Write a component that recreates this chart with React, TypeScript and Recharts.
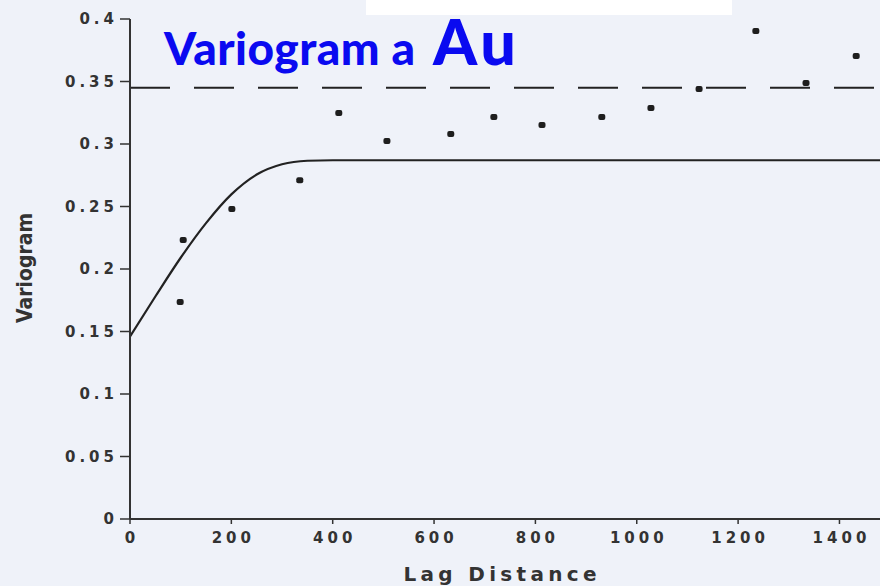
import React from "react";
import {
  ComposedChart,
  Line,
  Scatter,
  XAxis,
  YAxis,
  ReferenceLine,
} from "recharts";

// Experimental variogram points (lag distance, gamma)
const lagDistances = [99, 105, 201, 335, 412, 507, 633, 718, 813, 931, 1028, 1123, 1235, 1334, 1433];
const gammaValues = [0.1736, 0.2232, 0.248, 0.271, 0.3248, 0.3024, 0.308, 0.3216, 0.3152, 0.3216, 0.3288, 0.344, 0.3904, 0.3488, 0.3704];

// Fitted model curve
const modelLags = [0, 50, 100, 150, 200, 250, 300, 350, 400, 1480];
const modelGamma = [0.146, 0.178, 0.209, 0.2367, 0.2597, 0.2756, 0.2838, 0.2866, 0.287, 0.287];

// Sill (dashed line)
const sillValue = 0.345;

const xTicks = [0, 200, 400, 600, 800, 1000, 1200, 1400];
const xTickLabels = ["0", "200", "400", "600", "800", "1000", "1200", "1400"];
const yTicks = [0, 0.05, 0.1, 0.15, 0.2, 0.25, 0.3, 0.35, 0.4];
const yTickLabels = ["0", "0.05", "0.1", "0.15", "0.2", "0.25", "0.3", "0.35", "0.4"];

const titleMain = "Variogram a";
const titleSub = "Au";
const xLabel = "Lag Distance";
const yLabel = "Variogram";

const expData = lagDistances.map((h, i) => ({ h, g: gammaValues[i] }));
const modelData = modelLags.map((h, i) => ({ h, g: modelGamma[i] }));

const INK = "#333333";
const TICK_FONT = "DejaVu Sans";
const SPACING = 4;

const YTick = (props: any) => {
  const { x, y, payload } = props;
  const idx = yTicks.indexOf(payload.value);
  return (
    <text
      x={x + SPACING}
      y={y}
      dy="0.355em"
      textAnchor="end"
      fontFamily={TICK_FONT}
      fontWeight={700}
      fontSize={15}
      letterSpacing={SPACING}
      fill={INK}
    >
      {idx >= 0 ? yTickLabels[idx] : String(payload.value)}
    </text>
  );
};

const XTick = (props: any) => {
  const { x, y, payload } = props;
  const idx = xTicks.indexOf(payload.value);
  return (
    <text
      x={x + SPACING / 2}
      y={y}
      dy="0.71em"
      textAnchor="middle"
      fontFamily={TICK_FONT}
      fontWeight={700}
      fontSize={15}
      letterSpacing={SPACING}
      fill={INK}
    >
      {idx >= 0 ? xTickLabels[idx] : String(payload.value)}
    </text>
  );
};

const Dot = (props: any) => {
  const { cx, cy } = props;
  return <rect x={cx - 3.5} y={cy - 3} width={7} height={6} rx={2} fill="#1e1e1e" />;
};

const XLabel = (props: any) => {
  const vb = props.viewBox || {};
  const cx = vb.x + 370;
  return (
    <text
      x={cx}
      y={581}
      textAnchor="middle"
      fontFamily={TICK_FONT}
      fontWeight={700}
      fontSize={20}
      textLength={193}
      lengthAdjust="spacing"
      fill={INK}
    >
      {xLabel}
    </text>
  );
};

const YLabel = () => {
  return (
    <text
      x={0}
      y={0}
      transform="translate(32 268) rotate(-90)"
      textAnchor="middle"
      fontFamily={TICK_FONT}
      fontWeight={700}
      fontSize={22}
      textLength={110}
      lengthAdjust="spacingAndGlyphs"
      fill={INK}
    >
      {yLabel}
    </text>
  );
};

export default function App() {
  return (
    <div
      style={{
        position: "absolute",
        left: 0,
        top: 0,
        width: 880,
        height: 586,
        background: "#eff2f9",
        overflow: "hidden",
      }}
    >
      <ComposedChart
        width={880}
        height={586}
        margin={{ top: 19, right: 0, bottom: 0, left: 0 }}
      >
        <XAxis
          type="number"
          dataKey="h"
          domain={[0, 1480]}
          ticks={xTicks}
          allowDataOverflow
          height={67}
          tickSize={5}
          tickMargin={8}
          axisLine={{ stroke: "#333", strokeWidth: 2 }}
          tickLine={{ stroke: "#333", strokeWidth: 1.5 }}
          tick={<XTick />}
          label={<XLabel />}
        />
        <YAxis
          type="number"
          dataKey="g"
          domain={[0, 0.4]}
          ticks={yTicks}
          allowDataOverflow
          width={130}
          tickSize={10}
          tickMargin={6}
          axisLine={{ stroke: "#333", strokeWidth: 2 }}
          tickLine={{ stroke: "#333", strokeWidth: 1.5 }}
          tick={<YTick />}
          label={<YLabel />}
        />
        <ReferenceLine
          y={sillValue}
          stroke="#222"
          strokeWidth={2}
          strokeDasharray="40 24"
          isFront={false}
        />
        <Line
          data={modelData}
          dataKey="g"
          type="monotone"
          stroke="#222"
          strokeWidth={2.2}
          dot={false}
          activeDot={false}
          isAnimationActive={false}
        />
        <Scatter
          data={expData}
          dataKey="g"
          shape={<Dot />}
          isAnimationActive={false}
        />
      </ComposedChart>
      <svg
        width={880}
        height={586}
        style={{ position: "absolute", left: 0, top: 0, pointerEvents: "none" }}
      >
        <rect x={366} y={0} width={366} height={15} fill="#ffffff" />
        <text
          x={164}
          y={65}
          fontFamily="Lato"
          fontWeight={900}
          fontSize={46}
          textLength={251}
          lengthAdjust="spacing"
          fill="#0a0af0"
        >
          {titleMain}
        </text>
        <text
          x={433}
          y={65}
          fontFamily="Lato"
          fontWeight={900}
          fontSize={63}
          textLength={83}
          lengthAdjust="spacing"
          fill="#0a0af0"
        >
          {titleSub}
        </text>
      </svg>
    </div>
  );
}
